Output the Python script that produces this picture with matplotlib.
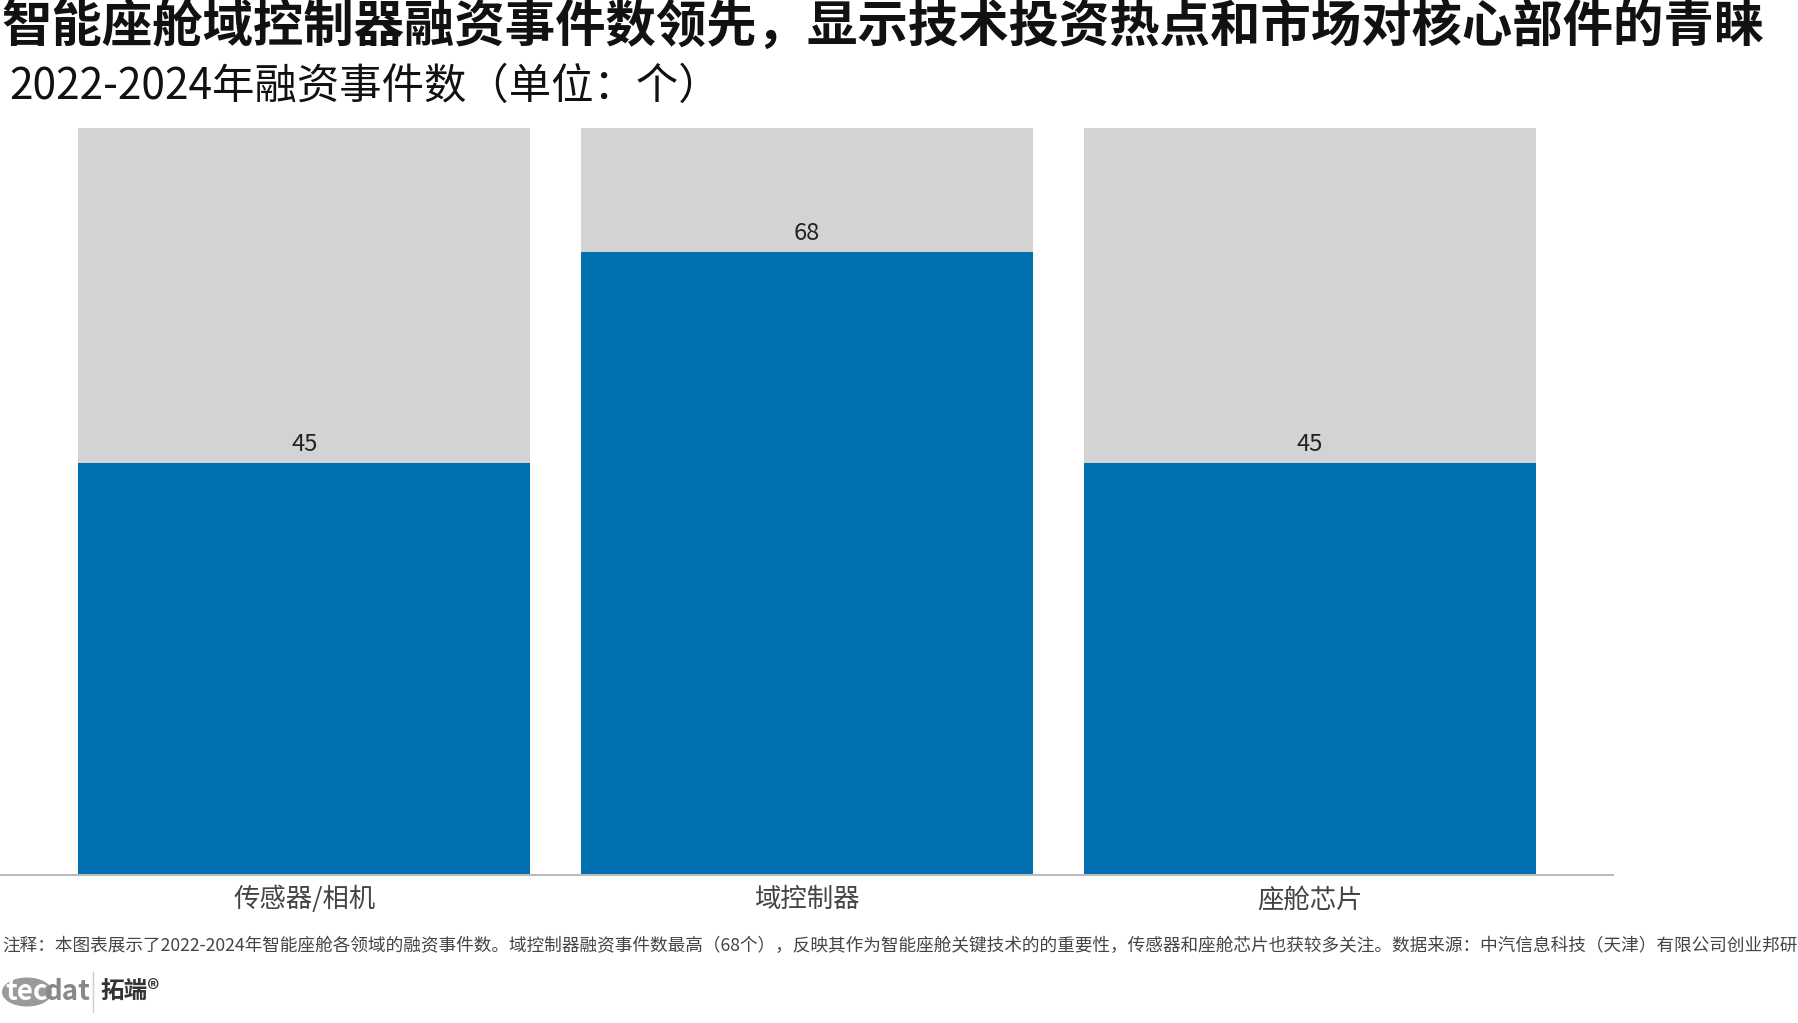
import matplotlib
matplotlib.use("Agg")
import matplotlib.pyplot as plt
from matplotlib.patches import Circle

plt.rcParams['font.family'] = ['Noto Sans CJK SC', 'DejaVu Sans']

categories = ["传感器/相机", "域控制器", "座舱芯片"]
values = [45, 68, 45]
bg_max = max(values) * 1.2

fig = plt.figure(figsize=(17.99, 10.23), dpi=100)
ax = fig.add_axes([0, 1 - 875/1023, 1613/1799, 747/1023])
x = list(range(len(categories)))
ax.bar(x, [bg_max]*3, width=0.9, color="#d3d3d3", zorder=1)
ax.bar(x, values, width=0.9, color="#0070b0", zorder=2)
for xi, v in zip(x, values):
    ax.text(xi, v + 0.8, str(v), ha="center", va="bottom", fontsize=17, color="#222222")
ax.set_xlim(-0.605, 2.603)
ax.set_ylim(0, bg_max)
ax.set_xticks(x)
ax.set_xticklabels(categories, fontsize=19, color="#444444")
ax.tick_params(axis='x', length=0, pad=8)
ax.set_yticks([])
for s in ["top", "right", "left"]:
    ax.spines[s].set_visible(False)
ax.spines["bottom"].set_color("#bbbbbb")
ax.spines["bottom"].set_linewidth(1.5)

fig.text(0.001, 1 - 27/1023, "智能座舱域控制器融资事件数领先，显示技术投资热点和市场对核心部件的青睐",
         fontsize=36.3, fontweight="bold", va="center", ha="left", color="#111111")
fig.text(0.005, 1 - 87/1023, "2022-2024年融资事件数（单位：个）", fontsize=30.5,
         va="center", ha="left", color="#111111")
fig.text(0.001, 1 - 946/1023,
         "注释：本图表展示了2022-2024年智能座舱各领域的融资事件数。域控制器融资事件数最高（68个），反映其作为智能座舱关键技术的的重要性，传感器和座舱芯片也获较多关注。数据来源：中汽信息科技（天津）有限公司创业邦研",
         fontsize=12.7, va="center", ha="left", color="#444444")
# logo
fig.add_artist(Circle((27/1799, 1 - 992/1023), 0.0135, transform=fig.transFigure,
                      color="#9a9a9a", zorder=0))
fig.text(5/1799, 1 - 992/1023, "tec", fontsize=20, color="white", va="center", fontweight="bold", zorder=2)
fig.text(45/1799, 1 - 992/1023, "dat", fontsize=20, color="#888888", va="center", fontweight="bold", zorder=2)
fig.add_artist(plt.Line2D([93/1799, 93/1799], [1 - 972/1023, 1 - 1012/1023],
                          transform=fig.transFigure, color="#cccccc", lw=1))
fig.text(100/1799, 1 - 992/1023, "拓端®", fontsize=17, color="#333333", va="center", fontweight="bold")

fig.savefig("out.png", dpi=100, facecolor="white")
